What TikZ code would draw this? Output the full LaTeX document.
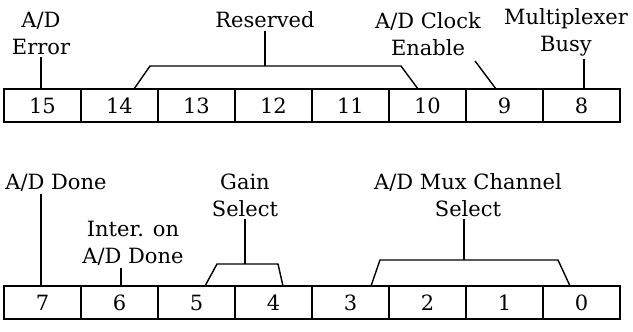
\documentclass[tikz,border=0pt]{standalone}
\usepackage{fontspec}
\setmainfont{DejaVu Serif}
\usetikzlibrary{positioning,calc}

\begin{document}
\begin{tikzpicture}
[x=0.5pt,y=-0.5pt,line width=0.7pt,
bit/.style={draw,minimum width=38.5pt,minimum height=16.5pt,inner sep=0pt,
font=\fontsize{10.5}{12}\selectfont},
lbl/.style={align=center,inner sep=1pt,font=\fontsize{10.5}{13.5}\selectfont}]
\useasboundingbox (0,0) rectangle (633,332);

% upper byte
\node (b15) at (42.5,105.5) [bit] {15};
\node (b14) at (119.5,105.5) [bit] {14};
\node (b13) at (196.5,105.5) [bit] {13};
\node (b12) at (273.5,105.5) [bit] {12};
\node (b11) at (350.5,105.5) [bit] {11};
\node (b10) at (427.5,105.5) [bit] {10};
\node (b9) at (504.5,105.5) [bit] {9};
\node (b8) at (581.5,105.5) [bit] {8};

% lower byte
\node (b7) at (42.5,302.5) [bit] {7};
\node (b6) at (119.5,302.5) [bit] {6};
\node (b5) at (196.5,302.5) [bit] {5};
\node (b4) at (273.5,302.5) [bit] {4};
\node (b3) at (350.5,302.5) [bit] {3};
\node (b2) at (427.5,302.5) [bit] {2};
\node (b1) at (504.5,302.5) [bit] {1};
\node (b0) at (581.5,302.5) [bit] {0};

% labels
\node (err) at (41,33) [lbl] {A/D\\Error};
\node (res) at (265,20) [lbl] {Reserved};
\node (clk) at (428,34) [lbl] {A/D Clock\\Enable};
\node (busy) at (566,32) [lbl] {Multiplexer\\Busy};
\node (done) at (56,183) [lbl] {A/D Done};
\node (inter) at (133,243) [lbl] {Inter. on\\A/D Done};
\node (gain) at (245,195) [lbl] {Gain\\Select};
\node (chan) at (468,195) [lbl] {A/D Mux Channel\\Select};

\coordinate (resA) at (134,89);
\coordinate (resB) at (150,66);
\coordinate (resC) at (401,66);
\coordinate (resD) at (418,89);
\coordinate (clkA) at (475,61);
\coordinate (clkB) at (496,89);
\coordinate (gainA) at (205,286);
\coordinate (gainB) at (217,264);
\coordinate (gainC) at (278,264);
\coordinate (gainD) at (283,286);
\coordinate (chanA) at (371,286);
\coordinate (chanB) at (380,260);
\coordinate (chanC) at (558,260);
\coordinate (chanD) at (570,286);

\draw (err.south) -- (err.south |- b15.north);
\draw (resA) -- (resB) -- (resC) -- (resD);
\draw (res.south) -- (res.south |- resB);
\draw (clkA) -- (clkB);
\draw (584,0 |- busy.south) -- (584,0 |- b8.north);

\draw (41,0 |- done.south) -- (41,0 |- b7.north);
\draw (121,0 |- inter.south) -- (121,0 |- b6.north);
\draw (gainA) -- (gainB) -- (gainC) -- (gainD);
\draw (gain.south) -- (gain.south |- gainB);
\draw (chanA) -- (chanB) -- (chanC) -- (chanD);
\draw (464,0 |- chan.south) -- (464,0 |- chanB);

\end{tikzpicture}
\end{document}
